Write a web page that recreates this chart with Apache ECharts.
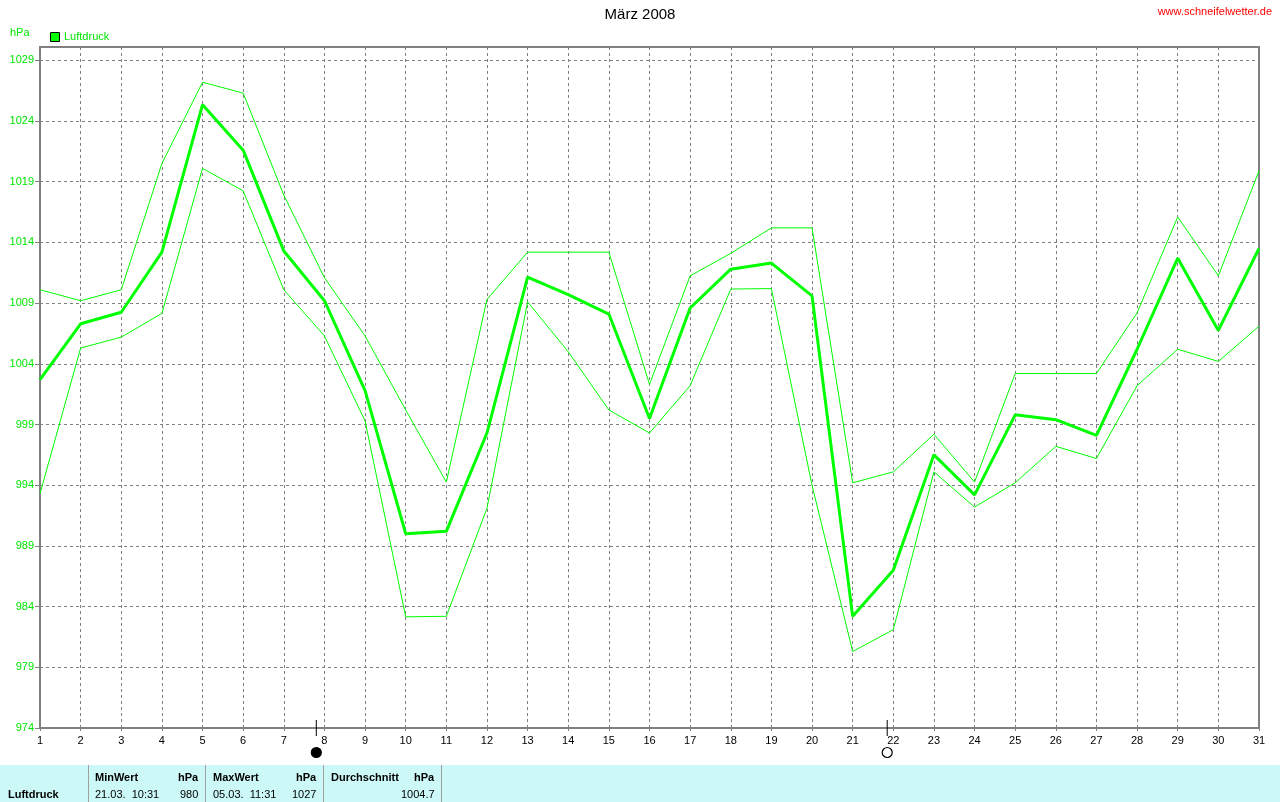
<!DOCTYPE html>
<html>
<head>
<meta charset="utf-8">
<script src="https://cdn.jsdelivr.net/npm/echarts@6/dist/echarts.min.js"></script>
<style>
html,body{margin:0;padding:0;background:#fff;}
#c{width:1280px;height:802px;}
</style>
</head>
<body>
<div id="c"></div>
<script>
const days = [1,2,3,4,5,6,7,8,9,10,11,12,13,14,15,16,17,18,19,20,21,22,23,24,25,26,27,28,29,30,31];
const luftdruckMittel = [1002.7,1007.3,1008.25,1013.2,1025.35,1021.6,1013.3,1009.2,1001.8,990.0,990.2,998.3,1011.15,1009.7,1008.1,999.5,1008.6,1011.8,1012.3,1009.6,983.2,987.0,996.5,993.2,999.8,999.4,998.1,1005.2,1012.7,1006.75,1013.5];
const luftdruckMax = [1010.1,1009.2,1010.1,1020.5,1027.2,1026.3,1017.9,1011.1,1006.3,1000.2,994.26,1009.3,1013.2,1013.2,1013.2,1002.3,1011.25,1013.1,1015.2,1015.2,994.2,995.1,998.2,994.26,1003.2,1003.2,1003.2,1008.2,1016.1,1011.25,1019.9];
const luftdruckMin = [993.3,1005.3,1006.2,1008.15,1020.1,1018.25,1010.1,1006.3,999.3,983.16,983.2,992.1,1009.1,1005.0,1000.2,998.3,1002.2,1010.16,1010.2,994.0,980.3,982.1,995.1,992.2,994.2,997.2,996.2,1002.2,1005.2,1004.2,1007.1];
const moonPhases = [{day:7.8, type:'new'},{day:21.85, type:'full'}];
const yMin = 974, yMax = 1030.1, yStep = 5;
const stats = {name:'Luftdruck', minDate:'21.03.  10:31', minVal:'980', maxDate:'05.03.  11:31', maxVal:'1027', avg:'1004.7'};

const GREEN = '#00ff00';
const TXTGREEN = '#00e600';
const FONT = '"Liberation Sans", Arial, sans-serif';

const chart = echarts.init(document.getElementById('c'), null, {renderer:'canvas'});
const pair = arr => days.map((d,i)=>[d,arr[i]]);

const option = {
  animation:false,
  backgroundColor:'#ffffff',
  grid:{left:40,right:21,top:47,bottom:74,show:true,borderColor:'#808080',borderWidth:2,backgroundColor:'transparent'},
  xAxis:{type:'value',min:1,max:31,interval:1,
    axisLine:{show:true,onZero:false,lineStyle:{color:'#808080',width:2}},
    axisTick:{show:true,length:3,lineStyle:{color:'#808080'}},
    axisLabel:{color:'#000',fontFamily:FONT,fontSize:11,margin:7,showMinLabel:true,showMaxLabel:true},
    splitLine:{show:true,lineStyle:{color:'#808080',type:[3,3],width:1}}
  },
  yAxis:{type:'value',min:yMin,max:yMax,interval:yStep,
    axisLine:{show:true,onZero:false,lineStyle:{color:'#808080',width:2}},
    axisTick:{show:true,length:5,lineStyle:{color:'#808080'}},
    axisLabel:{color:TXTGREEN,fontFamily:FONT,fontSize:11,margin:6,showMaxLabel:false,
      formatter:v=> (v>yMax-1?'':String(v))},
    splitLine:{show:true,lineStyle:{color:'#808080',type:[3,3],width:1}}
  },
  series:[
    {name:'Max',type:'line',data:pair(luftdruckMax),symbol:'none',lineStyle:{color:GREEN,width:1},z:3},
    {name:'Min',type:'line',data:pair(luftdruckMin),symbol:'none',lineStyle:{color:GREEN,width:1},z:3},
    {name:'Luftdruck',type:'line',data:pair(luftdruckMittel),symbol:'none',lineStyle:{color:GREEN,width:3},z:4}
  ]
};
chart.setOption(option);

const g = [];
// title & header texts
g.push({type:'text',left:'center',top:7,style:{text:'März 2008',fill:'#000',font:'15px '+FONT}});
g.push({type:'text',right:8,top:6,style:{text:'www.schneifelwetter.de',fill:'#ff0000',font:'11px '+FONT}});
g.push({type:'text',left:10,top:27,style:{text:'hPa',fill:TXTGREEN,font:'11px '+FONT}});
g.push({type:'rect',shape:{x:50.5,y:32.5,width:9,height:9},style:{fill:GREEN,stroke:'#000',lineWidth:1}});
g.push({type:'text',left:64,top:31,style:{text:'Luftdruck',fill:TXTGREEN,font:'11px '+FONT}});

// moon phases
const yBase = chart.convertToPixel({yAxisIndex:0}, yMin);
moonPhases.forEach(m=>{
  const x = chart.convertToPixel({xAxisIndex:0}, m.day);
  g.push({type:'line',shape:{x1:x,y1:yBase-8,x2:x,y2:yBase+8},style:{stroke:'#000',lineWidth:1},z:10});
  g.push({type:'circle',shape:{cx:x,cy:yBase+24.5,r:5},style:{fill:m.type==='new'?'#000':'#fff',stroke:'#000',lineWidth:1.2},z:10});
});

// stats table
const tY = 765, tH = 37;
g.push({type:'rect',shape:{x:0,y:tY,width:1280,height:tH},style:{fill:'#ccf8f8'}});
[88,205,323,441].forEach(x=>{
  g.push({type:'line',shape:{x1:x+0.5,y1:tY,x2:x+0.5,y2:tY+tH},style:{stroke:'#a0a0a0',lineWidth:1}});
});
const bold = 'bold 11px '+FONT, norm = '11px '+FONT;
const row1 = tY+7, row2 = tY+24;
g.push({type:'text',left:8,top:row2,style:{text:stats.name,fill:'#000',font:bold}});
g.push({type:'text',left:95,top:row1,style:{text:'MinWert',fill:'#000',font:bold}});
g.push({type:'text',left:178,top:row1,style:{text:'hPa',fill:'#000',font:bold}});
g.push({type:'text',left:95,top:row2,style:{text:stats.minDate,fill:'#000',font:norm}});
g.push({type:'text',left:180,top:row2,style:{text:stats.minVal,fill:'#000',font:norm}});
g.push({type:'text',left:213,top:row1,style:{text:'MaxWert',fill:'#000',font:bold}});
g.push({type:'text',left:296,top:row1,style:{text:'hPa',fill:'#000',font:bold}});
g.push({type:'text',left:213,top:row2,style:{text:stats.maxDate,fill:'#000',font:norm}});
g.push({type:'text',left:292,top:row2,style:{text:stats.maxVal,fill:'#000',font:norm}});
g.push({type:'text',left:331,top:row1,style:{text:'Durchschnitt',fill:'#000',font:bold}});
g.push({type:'text',left:414,top:row1,style:{text:'hPa',fill:'#000',font:bold}});
g.push({type:'text',left:401,top:row2,style:{text:stats.avg,fill:'#000',font:norm}});

chart.setOption({graphic:g});
</script>
</body>
</html>
